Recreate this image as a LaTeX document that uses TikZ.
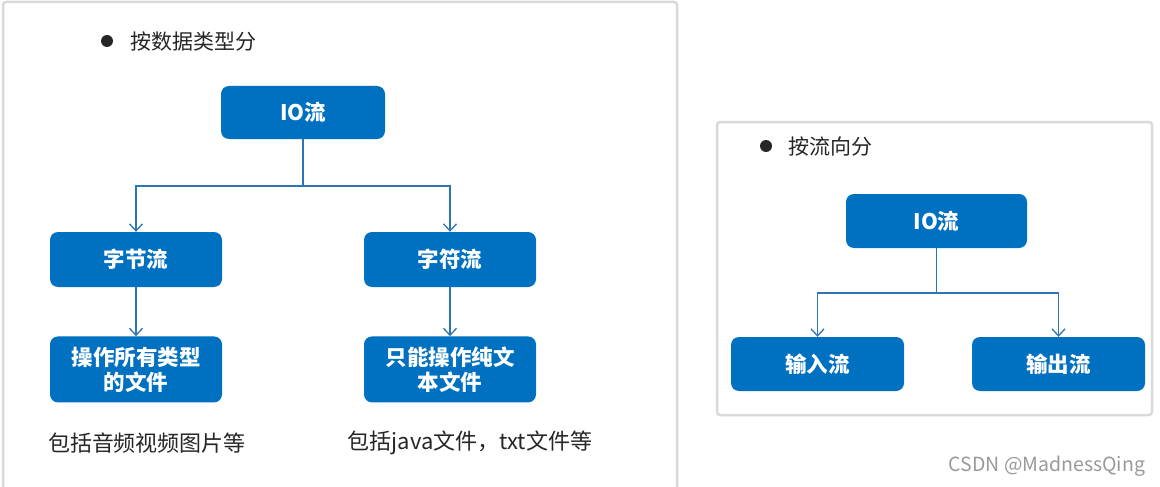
\documentclass[tikz,border=0pt]{standalone}
\usepackage{fontspec}
\newfontfamily\cjk{Noto Sans CJK SC}
\usetikzlibrary{arrows.meta,positioning}
\definecolor{boxblue}{HTML}{0070C0}
\definecolor{lineblue}{HTML}{2E75B6}
\definecolor{txtgray}{HTML}{262626}

\begin{document}
\begin{tikzpicture}[x=1pt, y=-1pt,
  panel/.style={fill=white, draw=black!15, line width=2.5pt, rounded corners=3pt},
  flow/.style={fill=boxblue, rounded corners=8pt, text=white, align=center, inner sep=0pt,
               font=\cjk\bfseries\fontsize{21.5}{25}\selectfont, minimum width=172pt, minimum height=55pt},
  link/.style={lineblue, line width=1.3pt},
  arr/.style={link, -{Straight Barb[length=7pt,width=13pt,line width=1.3pt]}},
  heading/.style={font=\cjk\fontsize{21}{25}\selectfont, text=txtgray, anchor=west, inner sep=0pt},
  note/.style={font=\cjk\fontsize{22}{25}\selectfont, text=txtgray, inner sep=0pt}
]
  \useasboundingbox (0,0) rectangle (1160,487);

  % panels
  \draw[panel] (3,2) rectangle (677,500);
  \draw[panel] (717,122) rectangle (1152,415);

  % left: by data type
  \fill[txtgray] (107,41) circle (6pt);
  \node[heading] (h1) at (130,41) {按数据类型分};
  \node[flow, minimum width=164pt, minimum height=53pt] (io1) at (303,112.5) {IO流};
  \node[flow] (byte) at (136,259.5) {字节流};
  \node[flow] (char) at (450,259.5) {字符流};
  \node[flow, minimum height=66pt, below=49pt of byte] (byteop) {操作所有类型\\的文件};
  \node[flow, minimum height=66pt, below=49pt of char] (charop) {只能操作纯文\\本文件};
  \node[note] (n1) at (147,443) {包括音频视频图片等};
  \node[note] (n2) at (470,443) {包括java文件，txt文件等};

  \coordinate (j1) at (303,186);
  \draw[link] (io1.south) -- (j1);
  \draw[arr] (j1) -| (byte.north);
  \draw[arr] (j1) -| (char.north);
  \draw[arr] (byte) -- (byteop);
  \draw[arr] (char) -- (charop);

  % right: by direction
  \fill[txtgray] (766,146) circle (6pt);
  \node[heading] (h2) at (788,146) {按流向分};
  \node[flow, minimum width=181pt, minimum height=54pt] (io2) at (936.5,221) {IO流};
  \node[flow, minimum width=173pt, minimum height=54pt] (in) at (817.5,364) {输入流};
  \node[flow, minimum width=173pt, minimum height=54pt] (out) at (1058.5,364) {输出流};

  \coordinate (j2) at (936.5,293);
  \draw[link] (io2.south) -- (j2);
  \draw[arr] (j2) -| (in.north);
  \draw[arr] (j2) -| (out.north);

  \node[font=\cjk\fontsize{19.5}{22}\selectfont, text=black!40, inner sep=0pt] (wm) at (1047,466) {CSDN @MadnessQing};
\end{tikzpicture}
\end{document}
